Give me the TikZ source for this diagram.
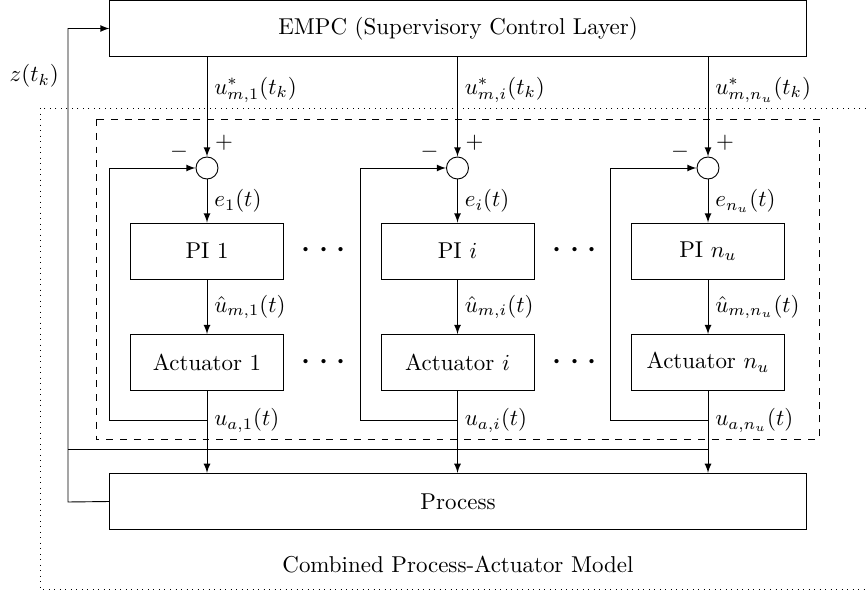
\documentclass[tikz,border=0pt]{standalone}
\usepackage{amsmath}
\usepackage{tikz}
\usetikzlibrary{calc,shapes}

\tikzset{
    block/.style = {rectangle, draw, minimum width=66.7pt, minimum height=24.4pt},
    wide/.style = {rectangle, draw, minimum width=303.5pt, minimum height=24.6pt},
    sum/.style = {circle, draw, minimum size=9.6pt, inner sep=0pt},
    lbl/.style = {anchor=west, inner sep=0pt, xshift=3pt}
}

\begin{document}
\begin{tikzpicture}[x=0.436pt, y=-0.436pt]
    \useasboundingbox (0,0) rectangle (866,590);
    % Frames
    \path [draw, dotted] (40,108) rectangle (880,589);
    \path [draw, dashed] (96,119) rectangle (819,439);
    % Place nodes
    \node [wide] (empc) at (458,28.5) {EMPC (Supervisory Control Layer)};
    \node [wide] (proc) at (458,501.5) {Process};
    \node [sum] (sum1) at (207,168) {};
    \node [sum] (sum2) at (457.5,168) {};
    \node [sum] (sum3) at (708,168) {};
    \node [block] (pi1) at (207,251) {PI 1};
    \node [block] (pi2) at (457.5,251) {PI $i$};
    \node [block] (pi3) at (708,251) {PI $n_u$};
    \node [block] (act1) at (207,362.5) {Actuator 1};
    \node [block] (act2) at (457.5,362.5) {Actuator $i$};
    \node [block] (act3) at (708,362.5) {Actuator $n_u$};
    \node (dots1) at (327,251) {\LARGE$\cdots$};
    \node (dots2) at (578,251) {\LARGE$\cdots$};
    \node (dots3) at (327,362.5) {\LARGE$\cdots$};
    \node (dots4) at (578,362.5) {\LARGE$\cdots$};
    \coordinate (fb1) at (109,420);
    \coordinate (fb2) at (360,420);
    \coordinate (fb3) at (610,420);
    \coordinate (zc) at (68,502);
    \coordinate (zl) at (68,449);
    \coordinate (zr) at (708,449);
    % Signs
    \node at ($(sum1)+(17,-25)$) {$+$};
    \node at ($(sum1)+(-28,-16)$) {$-$};
    \node at ($(sum2)+(17,-25)$) {$+$};
    \node at ($(sum2)+(-28,-16)$) {$-$};
    \node at ($(sum3)+(17,-25)$) {$+$};
    \node at ($(sum3)+(-28,-16)$) {$-$};
    % Signals
    \path [draw, -latex] (sum1 |- empc.south) -- node [lbl, pos=0.33] {$u^*_{m,1}(t_k)$} (sum1);
    \path [draw, -latex] (sum2 |- empc.south) -- node [lbl, pos=0.33] {$u^*_{m,i}(t_k)$} (sum2);
    \path [draw, -latex] (sum3 |- empc.south) -- node [lbl, pos=0.33] {$u^*_{m,n_u}(t_k)$} (sum3);
    \path [draw, -latex] (sum1) -- node [lbl] {$e_1(t)$} (pi1);
    \path [draw, -latex] (sum2) -- node [lbl] {$e_i(t)$} (pi2);
    \path [draw, -latex] (sum3) -- node [lbl] {$e_{n_u}(t)$} (pi3);
    \path [draw, -latex] (pi1) -- node [lbl] {$\hat{u}_{m,1}(t)$} (act1);
    \path [draw, -latex] (pi2) -- node [lbl] {$\hat{u}_{m,i}(t)$} (act2);
    \path [draw, -latex] (pi3) -- node [lbl] {$\hat{u}_{m,n_u}(t)$} (act3);
    \path [draw, -latex] (act1) -- node [lbl, pos=0.36] {$u_{a,1}(t)$} (act1 |- proc.north);
    \path [draw, -latex] (act2) -- node [lbl, pos=0.36] {$u_{a,i}(t)$} (act2 |- proc.north);
    \path [draw, -latex] (act3) -- node [lbl, pos=0.36] {$u_{a,n_u}(t)$} (act3 |- proc.north);
    % Feedback
    \path [draw, -latex] (act1 |- fb1) -- (fb1) |- (sum1);
    \path [draw, -latex] (act2 |- fb2) -- (fb2) |- (sum2);
    \path [draw, -latex] (act3 |- fb3) -- (fb3) |- (sum3);
    \path [draw] (zl) -- (zr);
    \path [draw, -latex] (proc.west) -- (zc) |- node [pos=0.45, left=0.5pt] {$z(t_k)$} (empc.west);
    % Caption
    \node (model) at (458,565) {Combined Process-Actuator Model};
\end{tikzpicture}
\end{document}
